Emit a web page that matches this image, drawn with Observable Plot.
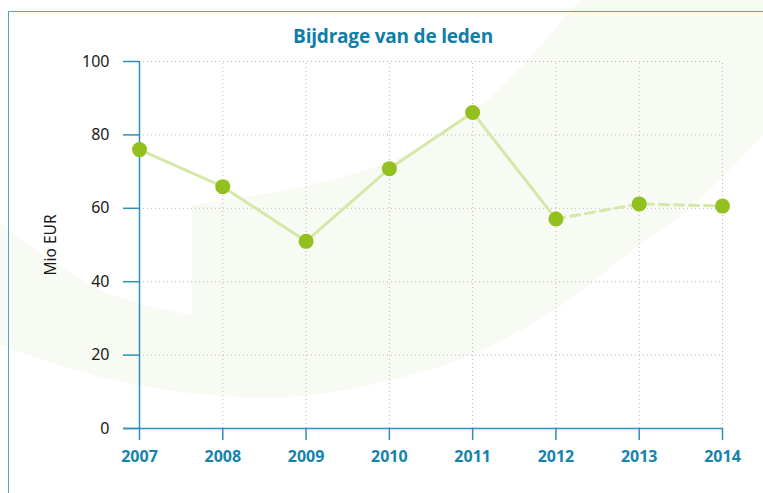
<!DOCTYPE html>
<html>
<head>
<meta charset="utf-8">
<script src="https://cdn.jsdelivr.net/npm/d3@7"></script>
<script src="https://cdn.jsdelivr.net/npm/@observablehq/plot@0.6"></script>
<style>
  html, body { margin: 0; padding: 0; background: #fff; }
  #page { position: relative; width: 763px; height: 493px; overflow: hidden; font-family: "Noto Sans", sans-serif; }
  #bg { position: absolute; left: 0; top: 0; }
  #frame { position: absolute; left: 8px; top: 11px; width: 780px; height: 500px; border-top: 1.5px solid #4fa5c6; border-left: 1.5px solid #4fa5c6; box-sizing: border-box; }
  #title { position: absolute; left: 0; top: 0; width: 786px; height: 50px; line-height: 72px; text-align: center; font-family: "Open Sans", sans-serif; font-weight: 700; font-size: 19px; color: #0f7ea8; letter-spacing: -0.2px; }
  #chart { position: absolute; left: 0; top: 50px; }
  #chart svg text { font-size: 16px; }
  #chart svg g[aria-label="x-axis tick label"] text { font-weight: 700; font-size: 16px; }
  #chart svg g[aria-label="text"] text { font-size: 15.5px; }
</style>
</head>
<body>
<div id="page">
  <svg id="bg" width="763" height="493"></svg>
  <div id="frame"></div>
  <div id="title">Bijdrage van de leden</div>
  <div id="chart"></div>
</div>
<script>
// ---- data ----
const years = [2007, 2008, 2009, 2010, 2011, 2012, 2013, 2014];
const values = [76.0, 65.9, 51.0, 70.8, 86.1, 57.1, 61.2, 60.6];
const actualYears = [2007, 2008, 2009, 2010, 2011, 2012];
const forecastYears = [2012, 2013, 2014];
const yTicks = [0, 20, 40, 60, 80, 100];
const yLabel = "Mio EUR";

// ---- decorative background swoosh ----
(function () {
  const line = d3.line().curve(d3.curveCatmullRom.alpha(0.5));
  const innerLeft = [[0, 223], [100, 290], [192, 315]];
  const innerRight = [[192, 205], [300, 187], [400, 157], [487, 100], [580, 0]];
  const outer = [[763, 135], [690, 208], [633, 250], [550, 313], [450, 363], [300, 396], [200, 394], [100, 377], [0, 345]];
  const d = line(innerLeft) + "L" + line(innerRight).slice(1) + "L763,0" + "L" + line(outer).slice(1) + "Z";
  d3.select("#bg").append("path").attr("d", d).attr("fill", "#f8fbf3");
})();

const data = years.map((y, i) => ({year: y, value: values[i]}));
const actual = data.filter(d => actualYears.includes(d.year));
const forecast = data.filter(d => forecastYears.includes(d.year));

const teal = "#2f8fba";
const tealText = "#1583ad";

const chart = Plot.plot({
  width: 763,
  height: 443,
  marginLeft: 139,
  marginRight: 41,
  marginTop: 11,
  marginBottom: 65,
  style: {fontFamily: "'Noto Sans', sans-serif", fontSize: "16px", background: "transparent", overflow: "visible"},
  x: {domain: [2007, 2014], ticks: years, tickFormat: d => String(d)},
  y: {domain: [0, 100], ticks: yTicks},
  marks: [
    Plot.gridX(years.slice(1), {stroke: "#b9b9b9", strokeOpacity: 1, strokeDasharray: "1,3", y1: 0, y2: 100}),
    Plot.gridY(yTicks.slice(1), {stroke: "#b9b9b9", strokeOpacity: 1, strokeDasharray: "1,3", x1: 2007, x2: 2014}),
    Plot.ruleX([2007], {y1: 0, y2: 100, stroke: teal, strokeWidth: 1.5}),
    Plot.ruleY([0], {stroke: teal, strokeWidth: 1.5, insetLeft: -16}),
    Plot.axisY(yTicks, {tickSize: 16, tickPadding: 14, stroke: teal, strokeWidth: 1.5, fill: "#1a1a1a", label: null}),
    Plot.axisX(years, {tickSize: 12, tickPadding: 10, stroke: teal, strokeWidth: 1.5, fill: tealText, fontWeight: "bold", label: null, tickFormat: d => String(d)}),
    Plot.text([yLabel], {frameAnchor: "left", textAnchor: "middle", rotate: -90, dx: -88, fill: "#1a1a1a"}),
    Plot.line(actual, {x: "year", y: "value", stroke: "#d5e8a9", strokeWidth: 3}),
    Plot.line(forecast, {x: "year", y: "value", stroke: "#d5e8a9", strokeWidth: 3, strokeDasharray: "9,6"}),
    Plot.dot(data, {x: "year", y: "value", r: 7.5, fill: "#93c01f", stroke: "none"})
  ]
});
document.getElementById("chart").appendChild(chart);
</script>
</body>
</html>
